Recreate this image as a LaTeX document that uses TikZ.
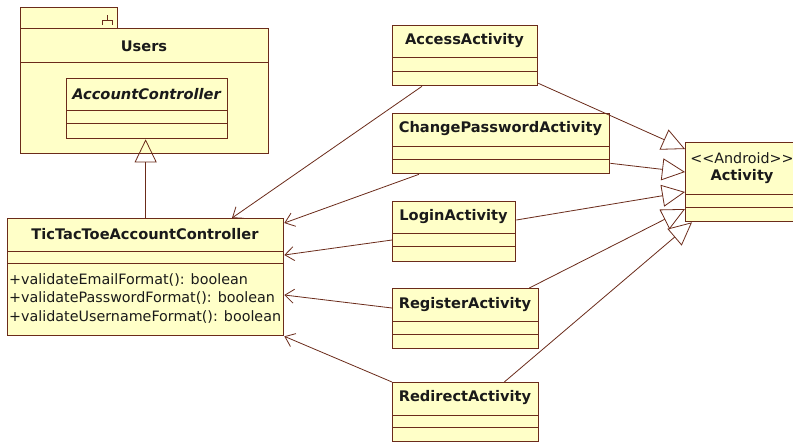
\documentclass[tikz,border=0pt]{standalone}
\usepackage{fontspec}
\setmainfont{DejaVu Sans}
\usetikzlibrary{arrows.meta,calc}
\definecolor{umlfill}{HTML}{FFFFC8}
\definecolor{umlline}{HTML}{6B2B1A}
\definecolor{umltext}{HTML}{1A1A1A}
\tikzset{
  box/.style={draw=umlline, fill=umlfill, line width=1.3pt, inner sep=0pt, anchor=north west},
  div/.style={draw=umlline, line width=1pt},
  ttl/.style={font=\fontsize{14.6}{17}\selectfont\bfseries, text=umltext, inner sep=0pt},
  mth/.style={font=\fontsize{14.3}{16}\selectfont, text=umltext, inner sep=0pt, anchor=west},
  gen/.style={draw=umlline, line width=0.8pt, -{Triangle[open,length=23pt,width=22pt]}},
  dep/.style={draw=umlline, line width=0.8pt, -{Straight Barb[length=9pt,width=14pt]}},
}
\begin{document}
\begin{tikzpicture}[x=1pt,y=-1pt]
\useasboundingbox (0,0) rectangle (793,442);
\fill[white] (0,0) rectangle (793,442);

% Users package
\node[box, minimum width=97pt, minimum height=21pt] (tab) at (20,7) {};
\node[box, minimum width=248pt, minimum height=125pt] (users) at (20,28) {};
\draw[div] ($(users.north west)+(0,34)$) -- ($(users.north east)+(0,34)$);
\draw[umlline, line width=1pt] (107,15) -- (107,20) (102,25) -- (102,20) -- (112,20) -- (112,25);
\node[ttl] (usersT) at (144,46) {Users};

% AccountController
\node[box, minimum width=161pt, minimum height=60pt] (ac) at (66,78) {};
\draw[div] ($(ac.north west)+(0,32)$) -- ($(ac.north east)+(0,32)$);
\draw[div] ($(ac.north west)+(0,45)$) -- ($(ac.north east)+(0,45)$);
\node[ttl, font=\fontsize{14.6}{17}\selectfont\bfseries\itshape] (acT) at (146.5,94) {AccountController};

% TicTacToeAccountController
\node[box, minimum width=276pt, minimum height=117pt] (tic) at (7,218) {};
\draw[div] ($(tic.north west)+(0,33)$) -- ($(tic.north east)+(0,33)$);
\draw[div] ($(tic.north west)+(0,45)$) -- ($(tic.north east)+(0,45)$);
\node[ttl] (ticT) at (145,234) {TicTacToeAccountController};
\node[mth] (m1) at (9,280) {+validateEmailFormat(): boolean};
\node[mth] (m2) at (9,298) {+validatePasswordFormat(): boolean};
\node[mth] (m3) at (9,317) {+validateUsernameFormat(): boolean};

% Activities
\node[box, minimum width=145pt, minimum height=60pt] (acc) at (392,25) {};
\draw[div] ($(acc.north west)+(0,32)$) -- ($(acc.north east)+(0,32)$);
\draw[div] ($(acc.north west)+(0,46)$) -- ($(acc.north east)+(0,46)$);
\node[ttl] (accT) at (464.5,41) {AccessActivity};

\node[box, minimum width=217pt, minimum height=60pt] (chg) at (392,113) {};
\draw[div] ($(chg.north west)+(0,33)$) -- ($(chg.north east)+(0,33)$);
\draw[div] ($(chg.north west)+(0,46)$) -- ($(chg.north east)+(0,46)$);
\node[ttl] (chgT) at (500.5,129) {ChangePasswordActivity};

\node[box, minimum width=123pt, minimum height=60pt] (log) at (392,201) {};
\draw[div] ($(log.north west)+(0,32)$) -- ($(log.north east)+(0,32)$);
\draw[div] ($(log.north west)+(0,45)$) -- ($(log.north east)+(0,45)$);
\node[ttl] (logT) at (453.5,217) {LoginActivity};

\node[box, minimum width=146pt, minimum height=60pt] (reg) at (392,288) {};
\draw[div] ($(reg.north west)+(0,33)$) -- ($(reg.north east)+(0,33)$);
\draw[div] ($(reg.north west)+(0,46)$) -- ($(reg.north east)+(0,46)$);
\node[ttl] (regT) at (465,305) {RegisterActivity};

\node[box, minimum width=146pt, minimum height=59pt] (red) at (392,382) {};
\draw[div] ($(red.north west)+(0,33)$) -- ($(red.north east)+(0,33)$);
\draw[div] ($(red.north west)+(0,45)$) -- ($(red.north east)+(0,45)$);
\node[ttl] (redT) at (465,398) {RedirectActivity};

% Android Activity
\node[box, minimum width=115pt, minimum height=79pt] (act) at (685,142) {};
\draw[div] ($(act.north west)+(0,52)$) -- ($(act.north east)+(0,52)$);
\draw[div] ($(act.north west)+(0,65)$) -- ($(act.north east)+(0,65)$);
\node[ttl, font=\fontsize{14.3}{16}\selectfont] (actS) at (742,158) {<{}<Android>{}>};
\node[ttl] (actT) at (742,177) {Activity};

% generalization: TicTacToe -> AccountController
\draw[gen] (tic.north) -- (tic.north |- ac.south);

% dependencies to TicTacToeAccountController
\draw[dep] ([xshift=30pt]acc.south west) -- ([xshift=225pt]tic.north west);
\draw[dep] ([xshift=27pt]chg.south west) -- ([yshift=-5pt]tic.north east);
\draw[dep] ([yshift=-39pt]log.north west) -- ([yshift=-37pt]tic.north east);
\draw[dep] ([yshift=-20pt]reg.north west) -- ([yshift=-77pt]tic.north east);
\draw[dep] (red.north west) -- (tic.south east);

% generalizations to Activity
\draw[gen] ([yshift=3pt]acc.south east) -- ([yshift=-7pt]act.north west);
\draw[gen] ([yshift=11pt]chg.south east) -- ([yshift=-30pt]act.north west);
\draw[gen] ([yshift=-19pt]log.north east) -- ([yshift=-50pt]act.north west);
\draw[gen] ([xshift=-10pt]reg.north east) -- ([yshift=-67pt]act.north west);
\draw[gen] ([xshift=-35pt]red.north east) -- ([xshift=7pt]act.south west);
\end{tikzpicture}
\end{document}
